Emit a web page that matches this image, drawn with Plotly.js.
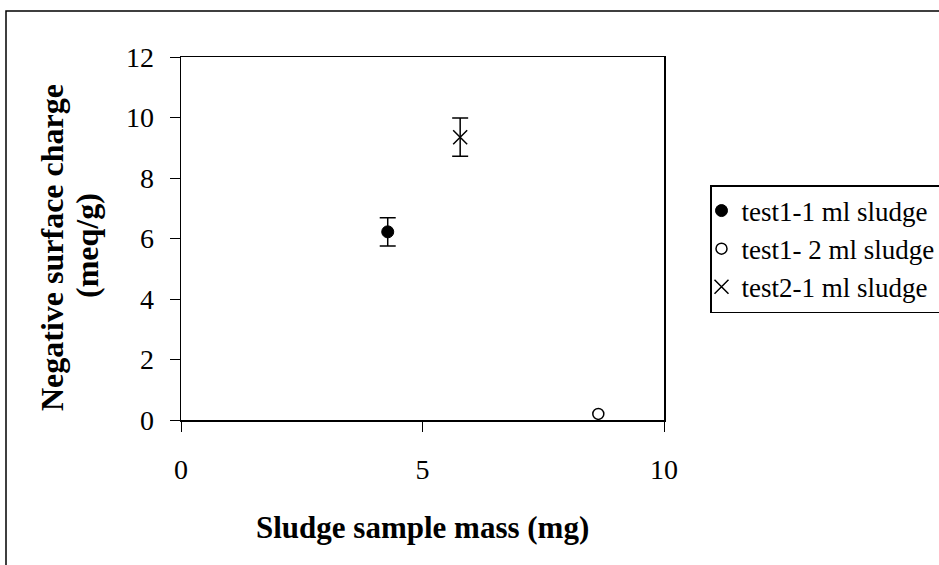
<!DOCTYPE html>
<html>
<head>
<meta charset="utf-8">
<script src="https://cdn.plot.ly/plotly-3.0.1.min.js"></script>
<style>
  html, body { margin: 0; padding: 0; background: #fff; }
  #chart { width: 939px; height: 565px; }
</style>
</head>
<body>
<div id="chart"></div>
<script>
// Data
const seriesNames = ["test1-1 ml sludge", "test1- 2 ml sludge", "test2-1 ml sludge"];
const sludgeMass = [4.28, 8.64, 5.78];          // mg
const surfaceCharge = [6.22, 0.20, 9.35];       // meq/g
const chargeError = [0.47, 0, 0.63];            // meq/g
const xTickVals = [0, 5, 10];
const yTickVals = [0, 2, 4, 6, 8, 10, 12];
const xTitle = "Sludge sample mass (mg)";
const yTitleLines = ["Negative surface charge", "(meq/g)"];

const FONT = '"Liberation Serif", "Times New Roman", serif';

// plot-area geometry (pixels) used to place decorations in paper units
const PL = 181, PR = 664, PT = 57, PB = 420;
const px2paperX = p => (p - PL) / (PR - PL);
const px2paperY = p => (PB - p) / (PB - PT);

const markerStyles = [
  { symbol: "circle", size: 12, color: "#000", line: { color: "#000", width: 1 } },
  { symbol: "circle-open", size: 11, color: "#000", line: { color: "#000", width: 1.5 } },
  { symbol: "x-thin-open", size: 14, color: "#000", line: { color: "#000", width: 1.5 } }
];

const traces = seriesNames.map((name, i) => ({
  type: "scatter",
  mode: "markers",
  name: name,
  x: [sludgeMass[i]],
  y: [surfaceCharge[i]],
  marker: markerStyles[i],
  error_y: {
    type: "data",
    array: [chargeError[i]],
    visible: chargeError[i] > 0,
    color: "#000",
    thickness: 1.5,
    width: 8
  },
  cliponaxis: false
}));

const axisCommon = {
  ticks: "outside",
  ticklen: 10,
  tickwidth: 1,
  tickcolor: "#000",
  showline: true,
  linecolor: "#000",
  linewidth: 1.5,
  mirror: true,
  showgrid: false,
  zeroline: false,
  tickfont: { family: FONT, size: 28, color: "#000" },
  automargin: false,
  fixedrange: true
};

const layout = {
  width: 939,
  height: 565,
  paper_bgcolor: "#fff",
  plot_bgcolor: "#fff",
  font: { family: FONT, color: "#000", size: 27 },
  margin: { l: PL, r: 939 - PR, t: PT, b: 565 - PB, pad: 0, autoexpand: false },
  showlegend: true,
  xaxis: Object.assign({}, axisCommon, {
    range: [0, 10],
    tickvals: xTickVals,
    ticktext: xTickVals.map(String),
    ticklabelstandoff: 14
  }),
  yaxis: Object.assign({}, axisCommon, {
    range: [0, 12],
    tickvals: yTickVals,
    ticktext: yTickVals.map(String),
    ticklabelstandoff: 10
  }),
  legend: {
    x: px2paperX(710),
    xanchor: "left",
    y: px2paperY(185),
    yanchor: "top",
    bgcolor: "#fff",
    bordercolor: "#000",
    borderwidth: 1.5,
    font: { family: FONT, size: 27, color: "#000" },
    itemwidth: 30,
    indentation: -10,
    tracegroupgap: 0
  },
  annotations: [
    {
      text: "<b>" + xTitle + "</b>",
      xref: "paper", yref: "paper",
      x: 0.5, y: px2paperY(527),
      xanchor: "center", yanchor: "middle",
      showarrow: false,
      font: { family: FONT, size: 31, color: "#000" }
    },
    {
      text: "<b>" + yTitleLines[0] + "</b>",
      xref: "paper", yref: "paper",
      x: px2paperX(52), y: px2paperY(248),
      xanchor: "center", yanchor: "middle",
      textangle: -90,
      showarrow: false,
      font: { family: FONT, size: 32, color: "#000" }
    },
    {
      text: "<b>" + yTitleLines[1] + "</b>",
      xref: "paper", yref: "paper",
      x: px2paperX(87), y: px2paperY(246),
      xanchor: "center", yanchor: "middle",
      textangle: -90,
      showarrow: false,
      font: { family: FONT, size: 32, color: "#000" }
    }
  ],
  shapes: [
    {
      type: "rect",
      xref: "paper", yref: "paper",
      x0: px2paperX(6), x1: 2,
      y0: -1, y1: px2paperY(11),
      line: { color: "#000", width: 1.5 },
      fillcolor: "rgba(0,0,0,0)",
      layer: "above"
    }
  ]
};

Plotly.newPlot("chart", traces, layout, { staticPlot: true, displayModeBar: false });
</script>
</body>
</html>
